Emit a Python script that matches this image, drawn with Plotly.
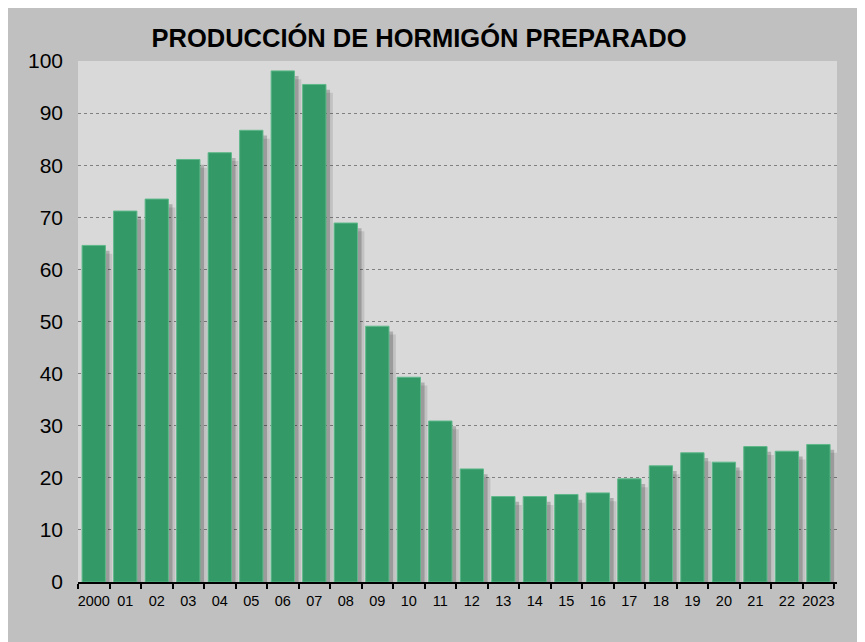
import plotly.graph_objects as go

# Data
years = ["2000", "01", "02", "03", "04", "05", "06", "07", "08", "09", "10", "11",
         "12", "13", "14", "15", "16", "17", "18", "19", "20", "21", "22", "2023"]
produccion = [64.6, 71.2, 73.5, 81.1, 82.4, 86.7, 98.1, 95.5, 68.9, 49.1, 39.3, 30.9,
              21.7, 16.4, 16.4, 16.8, 17.1, 19.8, 22.3, 24.8, 23.0, 26.0, 25.1, 26.4]

title_text = "PRODUCCIÓN DE HORMIGÓN PREPARADO"
font_family = "Liberation Sans, Arial, sans-serif"
bar_w = 0.74

fig = go.Figure()

# soft shadows behind the bars
fig.add_trace(go.Bar(
    x=years, y=produccion, base=-1.6, width=bar_w, offset=-bar_w / 2 + 0.22,
    marker=dict(color="rgba(0,0,0,0.10)", line_width=0), hoverinfo="skip",
))
fig.add_trace(go.Bar(
    x=years, y=produccion, base=-1.0, width=bar_w, offset=-bar_w / 2 + 0.13,
    marker=dict(color="rgba(0,0,0,0.20)", line_width=0), hoverinfo="skip",
))
# main bars
fig.add_trace(go.Bar(
    x=years, y=produccion, width=bar_w, offset=-bar_w / 2,
    marker=dict(color="#339966", line=dict(color="#5fb88a", width=1)),
))

# page body adds an 8px white margin, so the figure starts at (8, 8)
fig.update_layout(
    width=865, height=642,
    margin=dict(l=70, r=36, t=53, b=68, autoexpand=False),
    barmode="overlay",
    showlegend=False,
    paper_bgcolor="#c0c0c0",
    plot_bgcolor="#d9d9d9",
    font=dict(family=font_family, color="#000000"),
    title=dict(
        text="<b>" + title_text + "</b>",
        x=411 / 865, xanchor="center", xref="container",
        y=1 - 30 / 642, yanchor="middle", yref="container",
        font=dict(size=25.5, family=font_family, color="#000000"),
    ),
)

fig.update_xaxes(
    type="category", automargin=False,
    showline=True, linecolor="#000000", linewidth=1.5,
    ticks="outside", ticklen=5, tickcolor="#000000", tickwidth=1.5,
    tickson="boundaries", tickangle=0, ticklabelstandoff=5,
    showgrid=False,
    tickfont=dict(size=14.5, color="#000000"),
)
fig.update_yaxes(
    range=[0, 100], dtick=10, tick0=0, automargin=False,
    showgrid=True, gridcolor="#808080", griddash="dot", gridwidth=1,
    zeroline=False, showline=False,
    ticks="", ticklabelstandoff=14,
    tickfont=dict(size=21, color="#000000"),
)

fig.write_html("out.html")
